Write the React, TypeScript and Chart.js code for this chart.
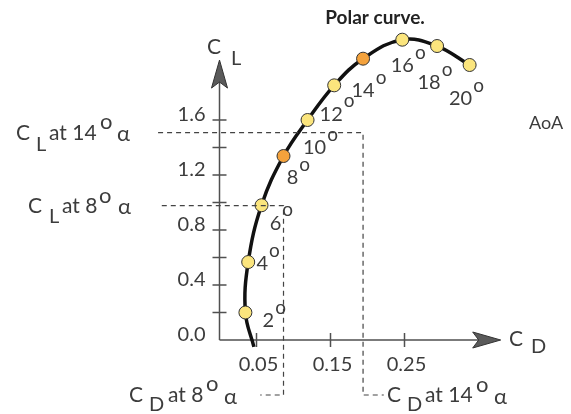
import { useEffect, useRef } from 'react';
import { Chart, registerables } from 'chart.js';

Chart.register(...registerables);

// Angle of attack (degrees) for each marked point on the polar
const aoaLabels = ['2', '4', '6', '8', '10', '12', '14', '16', '18', '20'];
// Drag coefficient at each marked point
const markerCD = [0.035, 0.0388, 0.0568, 0.0865, 0.119, 0.155, 0.194, 0.247, 0.294, 0.338];
// Lift coefficient at each marked point
const markerCL = [0.2, 0.567, 0.98, 1.338, 1.6, 1.852, 2.046, 2.184, 2.138, 2.0];
// The curve starts just below zero lift
const curveStartCD = 0.0465;
const curveStartCL = -0.05;

// Highlighted angles (8° and 14°)
const highlighted = ['8', '14'];

// Axis ticks
const yTickValues = [0.2, 0.4, 0.6, 0.8, 1.0, 1.2, 1.4, 1.6];
const yLabelValues = [0, 0.4, 0.8, 1.2, 1.6];
const yTickLabels = ['0.0', '0.4', '0.8', '1.2', '1.6'];
const xTickValues = [0.05, 0.15, 0.25];
const xTickLabels = ['0.05', '0.15', '0.25'];

// Reference lines
const clAt14 = 1.508;
const clAt8 = 0.978;
const cdAt14 = 0.194;
const cdAt8 = 0.0865;

const FONT = "Lato, 'DejaVu Sans', sans-serif";
const TEXT = '#3c3c3c';
const AXIS = '#505050';
const YELLOW = '#FBE57D';
const ORANGE = '#F4A23C';

// label placement around each marker (pixels from the marker centre)
const aoaLabelOffsets: [number, number][] = [
  [23, 8], [14, 2], [14, 18], [9, 22], [7, 28], [-3, 29], [0, 32], [0, 26], [-8, 37], [-9, 34],
];

type Piece = [string, number, number, number];

function drawPieces(ctx: CanvasRenderingContext2D, pieces: Piece[]) {
  ctx.textAlign = 'left';
  ctx.textBaseline = 'middle';
  for (const [t, x, y, size] of pieces) {
    ctx.font = `${size}px ${FONT}`;
    ctx.fillText(t, x, y);
  }
}

function arrowHead(
  ctx: CanvasRenderingContext2D,
  tipX: number, tipY: number, dirX: number, dirY: number,
) {
  const len = 28, half = 8, notch = 22;
  const px = -dirY, py = dirX;
  ctx.beginPath();
  ctx.moveTo(tipX, tipY);
  ctx.lineTo(tipX - dirX * len + px * half, tipY - dirY * len + py * half);
  ctx.lineTo(tipX - dirX * notch, tipY - dirY * notch);
  ctx.lineTo(tipX - dirX * len - px * half, tipY - dirY * len - py * half);
  ctx.closePath();
  ctx.fillStyle = '#5a5a5a';
  ctx.fill();
  ctx.lineWidth = 1;
  ctx.strokeStyle = '#333';
  ctx.stroke();
}

const polarDecor = {
  id: 'polarDecor',
  beforeDatasetsDraw(chart: any) {
    const ctx: CanvasRenderingContext2D = chart.ctx;
    const xs = chart.scales.x;
    const ys = chart.scales.y;
    const x0 = xs.getPixelForValue(0);
    const y0 = ys.getPixelForValue(0);
    const yTop = ys.getPixelForValue(2.036);
    const xEnd = xs.getPixelForValue(0.38);
    ctx.save();
    ctx.strokeStyle = AXIS;
    ctx.lineWidth = 1.5;
    ctx.beginPath();
    ctx.moveTo(x0, y0);
    ctx.lineTo(x0, yTop + 10);
    ctx.moveTo(x0, y0);
    ctx.lineTo(xEnd - 10, y0);
    for (const v of yTickValues) {
      const p = ys.getPixelForValue(v);
      ctx.moveTo(x0 - 7, p);
      ctx.lineTo(x0 + 7, p);
    }
    for (const v of xTickValues) {
      const p = xs.getPixelForValue(v);
      ctx.moveTo(p, y0 - 7);
      ctx.lineTo(p, y0 + 7);
    }
    ctx.stroke();
    arrowHead(ctx, x0, yTop, 0, -1);
    arrowHead(ctx, xEnd, y0, 1, 0);

    // tick labels
    ctx.fillStyle = TEXT;
    ctx.font = `20px ${FONT}`;
    ctx.textBaseline = 'middle';
    ctx.textAlign = 'right';
    yLabelValues.forEach((v, i) => {
      ctx.fillText(yTickLabels[i], x0 - 14, ys.getPixelForValue(v) - 5);
    });
    ctx.textAlign = 'center';
    xTickValues.forEach((v, i) => {
      ctx.fillText(xTickLabels[i], xs.getPixelForValue(v) + 2, y0 + 25);
    });
    ctx.restore();
  },
  afterDatasetsDraw(chart: any) {
    const ctx: CanvasRenderingContext2D = chart.ctx;
    const xs = chart.scales.x;
    const ys = chart.scales.y;
    const X = (v: number) => xs.getPixelForValue(v);
    const Y = (v: number) => ys.getPixelForValue(v);
    ctx.save();
    ctx.strokeStyle = '#444';
    ctx.lineWidth = 1.2;
    ctx.setLineDash([5, 4]);
    // CL / CD at 14°
    ctx.beginPath();
    ctx.moveTo(X(-0.083), Y(clAt14));
    ctx.lineTo(X(cdAt14), Y(clAt14));
    ctx.lineTo(X(cdAt14), Y(-0.4));
    ctx.lineTo(X(0.222), Y(-0.4));
    ctx.stroke();
    // CL / CD at 8°
    ctx.beginPath();
    ctx.moveTo(X(-0.078), Y(clAt8));
    ctx.lineTo(X(cdAt8), Y(clAt8));
    ctx.lineTo(X(cdAt8), Y(-0.4));
    ctx.lineTo(X(0.055), Y(-0.4));
    ctx.stroke();
    ctx.restore();
  },
  afterDraw(chart: any) {
    const ctx: CanvasRenderingContext2D = chart.ctx;
    const xs = chart.scales.x;
    const ys = chart.scales.y;
    ctx.save();
    ctx.fillStyle = TEXT;

    // angle of attack labels
    ctx.textBaseline = 'middle';
    aoaLabels.forEach((lab, i) => {
      const cx = xs.getPixelForValue(markerCD[i]) + aoaLabelOffsets[i][0];
      const cy = ys.getPixelForValue(markerCL[i]) + aoaLabelOffsets[i][1];
      ctx.font = `20px ${FONT}`;
      ctx.textAlign = 'center';
      ctx.fillText(lab, cx, cy);
      const w = ctx.measureText(lab).width;
      ctx.font = `19px ${FONT}`;
      ctx.textAlign = 'left';
      ctx.fillText('o', cx + w / 2 + 1, cy - 13);
    });

    // axis titles
    drawPieces(ctx, [
      ['C', 207, 47, 21], ['L', 231, 59, 20],
      ['C', 509, 339, 21], ['D', 531, 347, 20],
    ]);

    // reference annotations
    drawPieces(ctx, [
      ['C', 16, 133, 21], ['L', 36, 145, 20], ['at 14', 49, 133, 21], ['o', 100, 122, 22], ['α', 117, 134, 22],
      ['C', 28, 206, 21], ['L', 49, 217, 20], ['at 8', 62, 206, 21], ['o', 99, 196, 22], ['α', 118, 207, 22],
      ['C', 129, 395, 21], ['D', 149, 405, 20], ['at 8', 168, 395, 21], ['o', 206, 384, 22], ['α', 224, 397, 22],
      ['C', 387, 395, 21], ['D', 407, 405, 20], ['at 14', 425, 395, 21], ['o', 476, 385, 22], ['α', 494, 397, 22],
    ]);

    drawPieces(ctx, [['AoA', 529, 123, 18]]);

    // title
    ctx.font = `bold 19px ${FONT}`;
    ctx.textAlign = 'center';
    ctx.fillStyle = '#222';
    ctx.fillText('Polar curve.', 375, 18);
    ctx.restore();
  },
};

export default function App() {
  const canvasRef = useRef<HTMLCanvasElement | null>(null);

  useEffect(() => {
    const canvas = canvasRef.current;
    if (!canvas) return;

    const curveData = [{ x: curveStartCD, y: curveStartCL }].concat(
      markerCD.map((cd, i) => ({ x: cd, y: markerCL[i] })),
    );
    const markerData = markerCD.map((cd, i) => ({ x: cd, y: markerCL[i] }));
    const fills = aoaLabels.map((a) => (highlighted.includes(a) ? ORANGE : YELLOW));

    const chart = new Chart(canvas, {
      type: 'scatter',
      data: {
        datasets: [
          {
            label: 'AoA',
            data: markerData,
            pointRadius: 6.5,
            pointBackgroundColor: fills,
            pointBorderColor: '#333',
            pointBorderWidth: 1,
            showLine: false,
            clip: false,
            order: 0,
          } as any,
          {
            label: 'Polar',
            data: curveData,
            showLine: true,
            borderColor: '#111',
            borderWidth: 3.5,
            tension: 0.4,
            pointRadius: 0,
            clip: false,
            order: 1,
          } as any,
        ],
      },
      options: {
        animation: false,
        responsive: false,
        maintainAspectRatio: false,
        devicePixelRatio: 1,
        events: [],
        layout: {
          padding: { left: 219.5, right: 70.3, top: 37.5, bottom: 60.25 },
        },
        plugins: {
          legend: { display: false },
          title: { display: false },
          tooltip: { enabled: false },
        },
        scales: {
          x: { type: 'linear', min: 0, max: 0.38, display: false },
          y: { type: 'linear', min: -0.1, max: 2.2, display: false },
        },
      },
      plugins: [polarDecor],
    });

    return () => chart.destroy();
  }, []);

  return (
    <div style={{ position: 'fixed', left: 0, top: 0, width: 571, height: 414, background: '#fff' }}>
      <canvas ref={canvasRef} width={571} height={414} style={{ display: 'block' }} />
    </div>
  );
}
